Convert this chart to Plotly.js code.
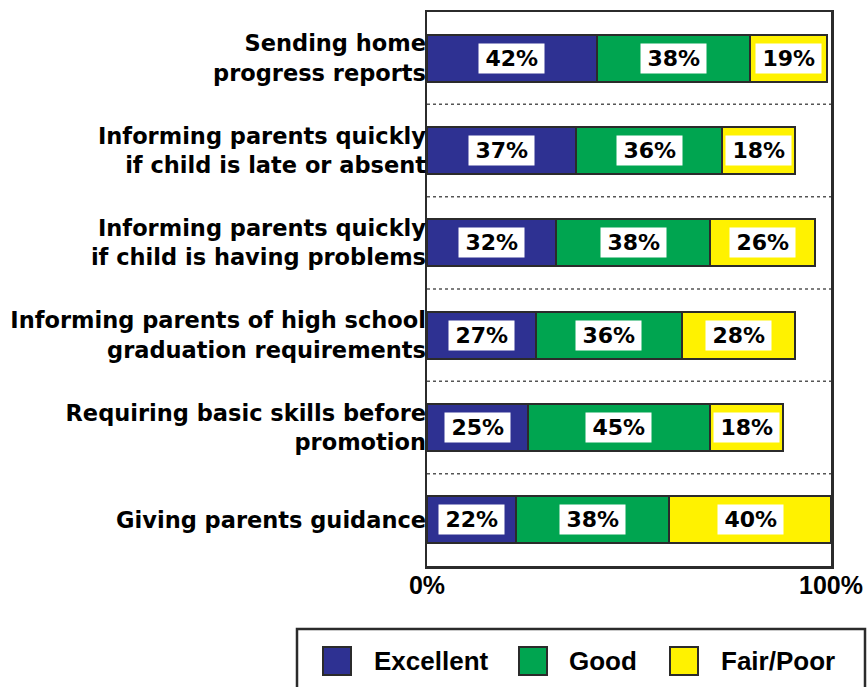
<!DOCTYPE html>
<html><head><meta charset="utf-8">
<script src="https://cdn.plot.ly/plotly-3.0.1.min.js"></script>
<style>html,body{margin:0;padding:0;background:#fff}#chart{width:867px;height:687px}</style>
</head><body><div id="chart"></div>
<script>
const categories = [
  "Sending home<br>progress reports",
  "Informing parents quickly<br>if child is late or absent",
  "Informing parents quickly<br>if child is having problems",
  "Informing parents of high school<br>graduation requirements",
  "Requiring basic skills before<br>promotion",
  "Giving parents guidance"
];
const seriesNames = ["Excellent", "Good", "Fair/Poor"];
const excellent = [42, 37, 32, 27, 25, 22];
const good = [38, 36, 38, 36, 45, 38];
const fairPoor = [19, 18, 26, 28, 18, 40];
const xTickVals = [0, 100];
const xTickText = ["0%", "100%"];

const values = [excellent, good, fairPoor];
const colors = ["#2E3192", "#00A550", "#FFF200"];
const lineCol = "#2b2b2b";
const FONT = "Liberation Sans, Arial, Helvetica, sans-serif";
const WIDE = "DejaVu Sans, Verdana, sans-serif";

const traces = values.map((v, i) => ({
  type: "bar", orientation: "h", name: seriesNames[i],
  y: categories, x: v,
  marker: {color: colors[i], line: {color: lineCol, width: 2}},
  width: 0.51, hoverinfo: "x+name", showlegend: false
}));

const annotations = [];
categories.forEach((c, ci) => {
  let cum = 0;
  values.forEach((v) => {
    const val = v[ci];
    annotations.push({
      x: cum + val / 2, y: c, xref: "x", yref: "y",
      text: "\u2009" + val + "%\u2009", showarrow: false,
      bgcolor: "#ffffff", borderpad: 2,
      font: {family: WIDE, size: 22, color: "#000", weight: "bold"}
    });
    cum += val;
  });
});

// plot area in pixels
const L = 427, R = 831, T = 12, B = 566;
const px = (x) => (x - L) / (R - L);
const py = (y) => (B - y) / (B - T);

const shapes = [];
for (let i = 0; i < categories.length - 1; i++) {
  shapes.push({type: "line", xref: "x", yref: "y", x0: 0, x1: 100,
    y0: i + 0.5, y1: i + 0.5, line: {color: "#555", width: 1.5, dash: "dot"}, layer: "below"});
}
// legend box
shapes.push({type: "rect", xref: "paper", yref: "paper", x0: px(297), x1: px(865), y0: py(629), y1: py(700),
  line: {color: lineCol, width: 2.5}, fillcolor: "rgba(0,0,0,0)"});
const legSq = [323, 519, 670];
const legTx = [372, 567, 719];
seriesNames.forEach((n, i) => {
  shapes.push({type: "rect", xref: "paper", yref: "paper", x0: px(legSq[i]), x1: px(legSq[i] + 28),
    y0: py(647), y1: py(675), fillcolor: colors[i], line: {color: lineCol, width: 2}});
  annotations.push({xref: "paper", yref: "paper", x: px(legTx[i]), y: py(661), xanchor: "left", yanchor: "middle",
    text: n, showarrow: false, font: {family: FONT, size: 26, color: "#000", weight: "bold"}});
});

const layout = {
  width: 867, height: 687,
  margin: {l: L, r: 867 - R, t: T, b: 687 - B},
  paper_bgcolor: "#fff", plot_bgcolor: "#fff",
  barmode: "stack", showlegend: false,
  font: {family: FONT, color: "#000"},
  xaxis: {range: [0, 100], tickvals: xTickVals, ticktext: xTickText, showgrid: false, zeroline: false,
    showline: true, mirror: true, linecolor: lineCol, linewidth: 2.5, ticks: "", ticklabelstandoff: -5,
    tickfont: {family: FONT, size: 25, color: "#000", weight: "bold"}, fixedrange: true},
  yaxis: {type: "category", categoryorder: "array", categoryarray: categories, autorange: "reversed",
    showgrid: false, zeroline: false, showline: true, mirror: true, linecolor: lineCol, linewidth: 2.5,
    ticks: "", ticklabelstandoff: -6,
    tickfont: {family: WIDE, size: 22.5, color: "#000", weight: "bold"}, fixedrange: true},
  annotations: annotations, shapes: shapes
};
Plotly.newPlot("chart", traces, layout, {displayModeBar: false, staticPlot: true});
</script></body></html>
